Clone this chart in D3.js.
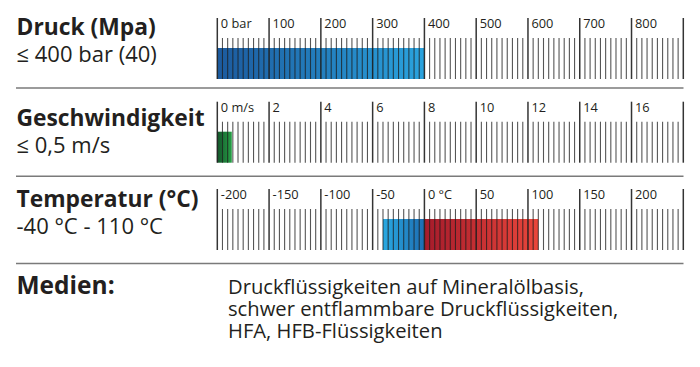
<!DOCTYPE html>
<html><head><meta charset="utf-8">
<script src="https://cdn.jsdelivr.net/npm/d3@7"></script>
<style>
html,body{margin:0;padding:0;background:#fff;}
svg{display:block;}
text{font-family:"Open Sans","Noto Sans",sans-serif;fill:#231f20;}
</style></head>
<body>
<svg id="chart" width="700" height="367"></svg>
<script>
// ---- data ----
const titles = ["Druck (Mpa)", "Geschwindigkeit", "Temperatur (°C)"];
const subtitles = ["≤ 400 bar (40)", "≤ 0,5 m/s", "-40 °C - 110 °C"];

const druckDomain = [0, 900];
const druckMajor = [0, 100, 200, 300, 400, 500, 600, 700, 800, 900];
const druckLabels = ["0 bar", "100", "200", "300", "400", "500", "600", "700", "800", ""];
const druckMinorStep = 10;
const druckBar = [0, 400];

const speedDomain = [0, 18];
const speedMajor = [0, 2, 4, 6, 8, 10, 12, 14, 16, 18];
const speedLabels = ["0 m/s", "2", "4", "6", "8", "10", "12", "14", "16", ""];
const speedMinorStep = 0.2;
const speedBar = [0, 0.56];

const tempDomain = [-200, 250];
const tempMajor = [-200, -150, -100, -50, 0, 50, 100, 150, 200, 250];
const tempLabels = ["-200", "-150", "-100", "-50", "0 °C", "50", "100", "150", "200", ""];
const tempMinorStep = 5;
const tempBarCold = [-40, 0];
const tempBarHot = [0, 110];

const mediaTitle = "Medien:";
const mediaLines = ["Druckflüssigkeiten auf Mineralölbasis,",
                    "schwer entflammbare Druckflüssigkeiten,",
                    "HFA, HFB-Flüssigkeiten"];

// ---- drawing ----
const svg = d3.select("#chart");
const defs = svg.append("defs");
function grad(id, c0, c1){
  const g = defs.append("linearGradient").attr("id", id)
    .attr("x1","0%").attr("x2","100%").attr("y1","0%").attr("y2","0%");
  g.append("stop").attr("offset","0%").attr("stop-color",c0);
  g.append("stop").attr("offset","100%").attr("stop-color",c1);
}
grad("gDruck", "#1c5a9e", "#2aa3de");
grad("gSpeed", "#14552b", "#27a046");
grad("gCold", "#29a9e1", "#1d6db2");
grad("gHot", "#a51b2b", "#ea463b");

const X0 = 217.3, X1 = 683.3;
const panels = [
  {domain: druckDomain, major: druckMajor, labels: druckLabels, step: druckMinorStep,
   bars: [{r: druckBar, fill: "url(#gDruck)"}], top: 18, tY: [35, 61.5]},
  {domain: speedDomain, major: speedMajor, labels: speedLabels, step: speedMinorStep,
   bars: [{r: speedBar, fill: "url(#gSpeed)"}], top: 101.7, tY: [126, 152.5]},
  {domain: tempDomain, major: tempMajor, labels: tempLabels, step: tempMinorStep,
   bars: [{r: tempBarCold, fill: "url(#gCold)"}, {r: tempBarHot, fill: "url(#gHot)"}], top: 189, tY: [206.5, 233.5]}
];

panels.forEach((p, i) => {
  const x = d3.scaleLinear().domain(p.domain).range([X0, X1]);
  const g = svg.append("g");
  const top = p.top, minorTop = top + 20, barTop = top + 30, bottom = top + 61;

  g.selectAll("rect.bar").data(p.bars).join("rect").attr("class","bar")
    .attr("x", d => x(d.r[0])).attr("width", d => x(d.r[1]) - x(d.r[0]))
    .attr("y", barTop).attr("height", bottom - barTop)
    .attr("fill", d => d.fill);

  const n = Math.round((p.domain[1] - p.domain[0]) / p.step);
  const minor = d3.range(0, n + 1).map(k => p.domain[0] + k * p.step)
    .filter(v => !p.major.some(m => Math.abs(m - v) < p.step / 10));
  g.selectAll("line.minor").data(minor).join("line").attr("class","minor")
    .attr("x1", d => x(d)).attr("x2", d => x(d))
    .attr("y1", minorTop).attr("y2", bottom)
    .attr("stroke", "#1e1e1e").attr("stroke-opacity", 0.75).attr("stroke-width", 1.1);

  g.selectAll("line.major").data(p.major).join("line").attr("class","major")
    .attr("x1", d => x(d)).attr("x2", d => x(d))
    .attr("y1", top).attr("y2", bottom)
    .attr("stroke", "#1e1e1e").attr("stroke-opacity", 0.9).attr("stroke-width", 1.5);

  g.selectAll("text.tl").data(p.major).join("text").attr("class","tl")
    .attr("x", d => x(d) + 3.5).attr("y", top + 10.3)
    .attr("font-size", 12.8)
    .text((d, j) => p.labels[j]);

  svg.append("text").attr("x", 16.5).attr("y", p.tY[0])
    .attr("font-size", 22.8).attr("font-weight", 700).text(titles[i]);
  svg.append("text").attr("x", 16.5).attr("y", p.tY[1])
    .attr("font-size", 22).text(subtitles[i]);
});

// separators
svg.selectAll("line.sep").data([88, 176.3, 263.5]).join("line").attr("class","sep")
  .attr("x1", 16).attr("x2", 683.5).attr("y1", d => d).attr("y2", d => d)
  .attr("stroke", "#7a7a7a").attr("stroke-width", 1.6);

svg.append("text").attr("x", 16.5).attr("y", 293.5)
  .attr("font-size", 24.5).attr("font-weight", 700).text(mediaTitle);
svg.selectAll("text.med").data(mediaLines).join("text").attr("class","med")
  .attr("x", 228).attr("y", (d, i) => 293.5 + i * 22)
  .attr("font-size", 20.2).text(d => d);
</script>
</body></html>
